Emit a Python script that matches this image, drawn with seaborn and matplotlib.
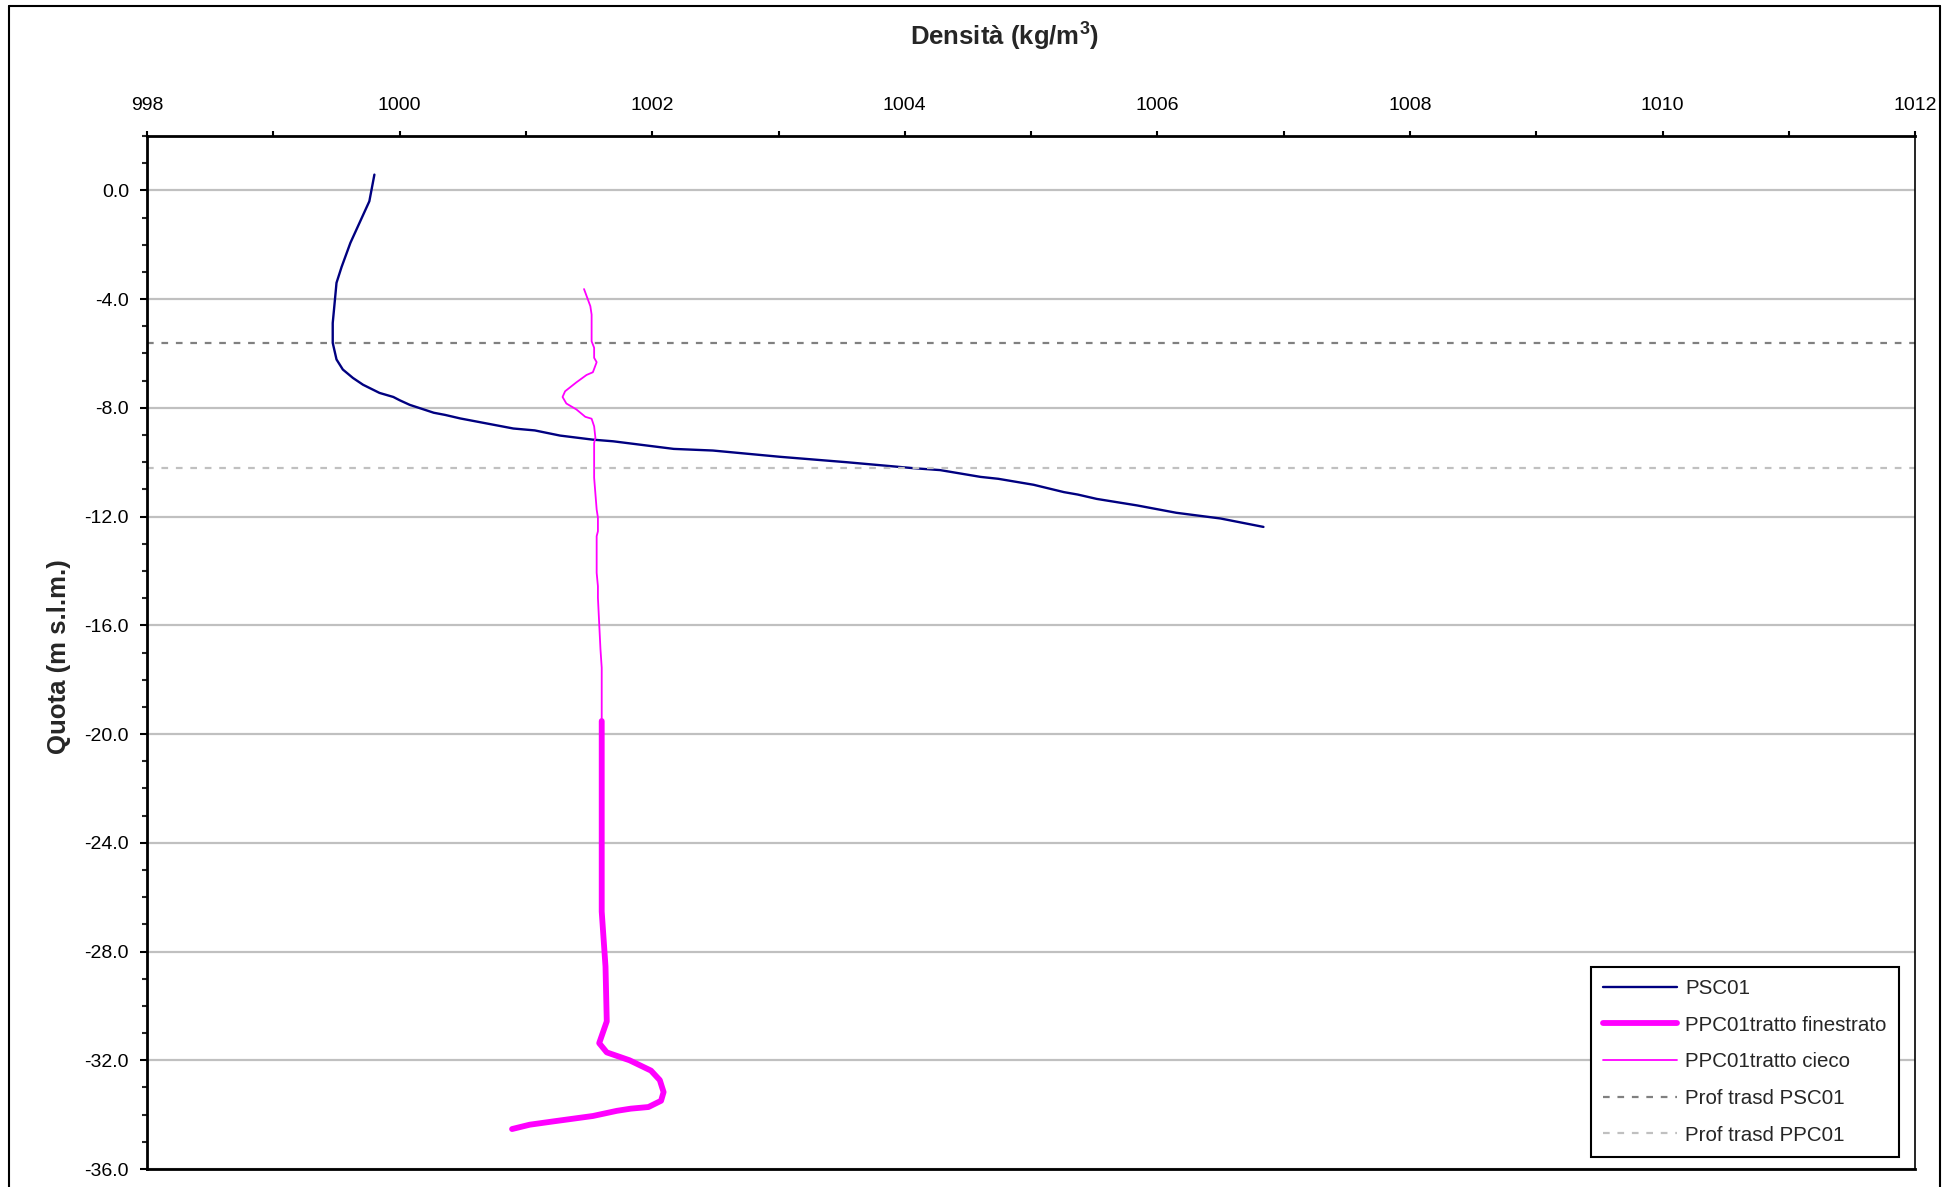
import matplotlib
matplotlib.use('Agg')
import matplotlib.pyplot as plt
import seaborn as sns
from matplotlib.lines import Line2D
from matplotlib.ticker import MultipleLocator, FormatStrFormatter

# PSC01 density profile (kg/m3) vs elevation (m s.l.m.)
psc_dens = [999.80, 999.76, 999.61, 999.54, 999.50, 999.48, 999.47, 999.47, 999.50, 999.55,
            999.63, 999.71, 999.84, 999.95, 1000.00, 1000.08, 1000.27, 1000.36, 1000.48, 1000.90,
            1001.07, 1001.27, 1001.53, 1001.69, 1002.17, 1002.48, 1003.01, 1003.54, 1004.07, 1004.28,
            1004.60, 1004.74, 1005.02, 1005.26, 1005.37, 1005.52, 1005.84, 1006.15, 1006.50, 1006.84]
psc_depth = [0.58, -0.40, -1.93, -2.82, -3.40, -4.39, -4.88, -5.61, -6.22, -6.59,
             -6.90, -7.15, -7.45, -7.60, -7.72, -7.89, -8.18, -8.26, -8.39, -8.76,
             -8.83, -9.02, -9.17, -9.23, -9.51, -9.57, -9.80, -10.00, -10.22, -10.29,
             -10.54, -10.61, -10.83, -11.10, -11.19, -11.35, -11.59, -11.86, -12.07, -12.38]

# PPC01 blind section
cieco_dens = [1001.46, 1001.51, 1001.52, 1001.52, 1001.54, 1001.54, 1001.56, 1001.53, 1001.48, 1001.40,
              1001.31, 1001.29, 1001.32, 1001.40, 1001.47, 1001.52, 1001.54, 1001.55, 1001.54, 1001.54,
              1001.56, 1001.57, 1001.57, 1001.56, 1001.56, 1001.57, 1001.57, 1001.59, 1001.60, 1001.60]
cieco_depth = [-3.63, -4.26, -4.57, -5.55, -5.79, -6.16, -6.32, -6.69, -6.79, -7.06,
               -7.39, -7.60, -7.84, -8.06, -8.33, -8.40, -8.68, -9.10, -9.29, -10.57,
               -11.74, -12.04, -12.54, -12.72, -14.07, -14.56, -14.99, -16.87, -17.56, -19.52]

# PPC01 screened section
fin_dens = [1001.60, 1001.60, 1001.63, 1001.64, 1001.58, 1001.64, 1001.82, 1001.99, 1002.06, 1002.09,
            1002.07, 1001.97, 1001.83, 1001.72, 1001.53, 1001.23, 1001.03, 1000.89]
fin_depth = [-19.52, -26.53, -28.55, -30.57, -31.37, -31.71, -32.00, -32.38, -32.73, -33.17,
             -33.49, -33.72, -33.78, -33.86, -34.05, -34.24, -34.37, -34.53]

# transducer depths
trasd_psc = -5.6
trasd_ppc = -10.2

sns.set_style('white')
plt.rcParams['font.family'] = ['Liberation Sans', 'DejaVu Sans']
plt.rcParams['mathtext.fontset'] = 'custom'
plt.rcParams['mathtext.bf'] = 'Liberation Sans:bold'
plt.rcParams['mathtext.rm'] = 'Liberation Sans'

fig = plt.figure(figsize=(19.43, 11.87), dpi=100)
ax = fig.add_axes([0.0757, 0.01516, 0.90993, 0.87026])

navy = '#000080'
magenta = '#FF00FF'

sns.lineplot(x=psc_dens, y=psc_depth, sort=False, estimator=None, color=navy, lw=1.7,
             ax=ax, label='PSC01')
sns.lineplot(x=fin_dens, y=fin_depth, sort=False, estimator=None, color=magenta, lw=4.2,
             ax=ax, label='PPC01tratto finestrato')
sns.lineplot(x=cieco_dens, y=cieco_depth, sort=False, estimator=None, color=magenta, lw=1.3,
             ax=ax, label='PPC01tratto cieco')
ax.axhline(trasd_psc, color='#808080', lw=1.6, linestyle=(0, (3, 3.5)), label='Prof trasd PSC01')
ax.axhline(trasd_ppc, color='#C0C0C0', lw=1.6, linestyle=(0, (3, 3.5)), label='Prof trasd PPC01')

ax.set_xlim(998, 1012)
ax.set_ylim(-36, 2)
ax.xaxis.tick_top()
ax.xaxis.set_major_locator(MultipleLocator(2))
ax.xaxis.set_minor_locator(MultipleLocator(1))
ax.yaxis.set_major_locator(MultipleLocator(4))
ax.yaxis.set_minor_locator(MultipleLocator(1))
ax.yaxis.set_major_formatter(FormatStrFormatter('%.1f'))

ax.yaxis.grid(True, which='major', color='#C0C0C0', lw=1.6)
ax.xaxis.grid(False)
ax.set_axisbelow(True)

for side in ['top', 'left', 'bottom']:
    ax.spines[side].set_color('black')
    ax.spines[side].set_linewidth(2)
ax.spines['right'].set_color('black')
ax.spines['right'].set_linewidth(1.2)

ax.tick_params(axis='y', which='major', direction='out', length=5, width=1.5,
               labelsize=14, pad=8, colors='black', left=True)
ax.tick_params(axis='y', which='minor', direction='out', length=3.8, width=1.5, left=True)
ax.tick_params(axis='x', which='both', direction='out', length=3.5, width=1.5,
               labelsize=14, pad=12.5, colors='black', top=True, bottom=False)

ax.set_xlabel('')
ax.set_ylabel('')
fig.text(0.517, 1 - 36 / 1187, r'Densità (kg/m$^{\mathbf{3}}$)', ha='center', va='center',
         fontsize=18.5, fontweight='bold')
fig.text(0.0304, 0.447, 'Quota (m s.l.m.)', ha='center', va='center', rotation=90,
         fontsize=18.5, fontweight='bold')

handles, labels = ax.get_legend_handles_labels()
leg = ax.legend(handles, labels, loc='lower right', bbox_to_anchor=(0.991, 0.0116),
                frameon=True, fancybox=False, edgecolor='black', fontsize=14.8,
                handlelength=3.6, handletextpad=0.4, labelspacing=0.86, borderpad=0.6,
                borderaxespad=0)
leg.get_frame().set_linewidth(1.5)
leg.get_frame().set_alpha(1)

# outer chart border
for xs, ys in [([0.0046, 0.0046], [0, 0.995]), ([0.0046, 0.9985], [0.995, 0.995]),
               ([0.9985, 0.9985], [0, 0.995])]:
    fig.add_artist(Line2D(xs, ys, transform=fig.transFigure, color='black', lw=1.5))

fig.savefig('out.png', dpi=100)
